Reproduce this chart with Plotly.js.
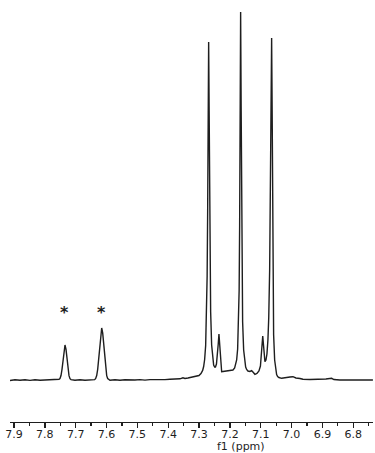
<!DOCTYPE html>
<html>
<head>
<meta charset="utf-8">
<script src="https://cdn.plot.ly/plotly-3.0.1.min.js"></script>
<style>html,body{margin:0;padding:0;background:#fff;}#chart{width:375px;height:453px;}
text{font-variant-emoji:text;}</style>
</head>
<body>
<div id="chart"></div>
<script>
// 1H NMR spectrum, chemical shift (ppm) and intensity (arbitrary units)
var shiftPpm = [
  7.9130, 7.8968, 7.8806, 7.8643, 7.8481, 7.8319, 7.8157, 7.7995, 7.7833, 7.7671, 7.7574,
  7.7541, 7.7509, 7.7476, 7.7444, 7.7412, 7.7379, 7.7347, 7.7314, 7.7282, 7.7250, 7.7217, 7.7185, 7.7152,
  7.7023, 7.6861, 7.6699, 7.6536,
  7.6384, 7.6352, 7.6319, 7.6287, 7.6254, 7.6222, 7.6189, 7.6157, 7.6125, 7.6092, 7.6060, 7.6027, 7.5995, 7.5963, 7.5930,
  7.5888, 7.5726, 7.5564, 7.5402, 7.5240, 7.5078, 7.4916, 7.4754, 7.4592, 7.4430, 7.4267, 7.4105, 7.3943, 7.3781, 7.3619,
  7.3522, 7.3457, 7.3360, 7.3295, 7.3198, 7.3100, 7.3003, 7.2938,
  7.2883, 7.2851, 7.2819, 7.2786, 7.2754, 7.2738, 7.2721, 7.2705, 7.2689, 7.2673, 7.2656, 7.2640, 7.2624,
  7.2592, 7.2559, 7.2527, 7.2494, 7.2468, 7.2436, 7.2404, 7.2378, 7.2355, 7.2332, 7.2313, 7.2290, 7.2267,
  7.2225, 7.2128, 7.2031, 7.1966, 7.1901,
  7.1846, 7.1814, 7.1781, 7.1749, 7.1716, 7.1700, 7.1684, 7.1668, 7.1652, 7.1635, 7.1619, 7.1603, 7.1587,
  7.1554, 7.1522, 7.1489, 7.1457, 7.1415, 7.1350, 7.1295, 7.1253, 7.1188, 7.1123,
  7.1058, 7.1010, 7.0977, 7.0951, 7.0935, 7.0919, 7.0896, 7.0864,
  7.0831, 7.0799, 7.0767, 7.0741, 7.0711, 7.0679, 7.0663, 7.0647, 7.0630, 7.0614, 7.0598, 7.0582,
  7.0549, 7.0517, 7.0485, 7.0452, 7.0410, 7.0322, 7.0215, 7.0118, 7.0053, 6.9956, 6.9859,
  6.9729, 6.9632, 6.9405, 6.9081, 6.8887, 6.8702, 6.8627, 6.8433, 6.8109, 6.7784, 6.7363
];
var intensity = [
  -0.5, 0.2, -0.3, 0.3, -0.4, 0.2, -0.3, -0.1, 0.3, 0.2, 0.6,
  0.8, 1.5, 4.5, 10.7, 20.7, 30.7, 35, 30.7, 20.7, 10.7, 4.3, 1.3, 0.4,
  -0.2, 0.3, -0.2, 0.3,
  0.4, 1.5, 4.4, 10.7, 21.4, 35, 47.1, 52, 47.1, 35, 21.4, 10.7, 4.4, 1.5, 0.5,
  -0.2, 0.3, -0.3, 0.3, -0.2, 0, 0.4, -0.1, 0.4, 0.3, 0.5, 0.4, 0.8, 0.9, 1.2,
  2.2, 1.5, 2.0, 2.5, 3.0, 3.5, 4.5, 6.5,
  9.6, 13.5, 20.5, 34.5, 68, 104, 169, 270, 338, 270, 169, 104, 68,
  35, 21, 15, 13, 13, 16, 24, 36, 46, 36, 20, 10, 8.3,
  8.5, 9, 9, 9.5, 10,
  12, 15, 20, 31, 58, 90, 155, 273, 368, 273, 155, 90, 58,
  30, 18, 13, 10.5, 9, 8.5, 9.3, 8, 5.7, 6.5,
  9, 14, 24, 36, 44, 38, 24, 18.3,
  20, 26, 40, 62, 110, 210, 290, 342, 270, 150, 80, 45,
  20, 10, 5.5, 3.5, 2.5, 1.7, 2.5, 3, 3, 3.3, 2,
  1.5, 0.7, 0.5, 0.5, 1, 1.7, 0.5, 0, 0.1, -0.1, 0
];
// starred signals (ppm, label height)
var starPpm = [7.7347, 7.6157];
var starLevel = [68, 68];
var tickVals = [7.9, 7.8, 7.7, 7.6, 7.5, 7.4, 7.3, 7.2, 7.1, 7.0, 6.9, 6.8];
var xTitle = 'f1 (ppm)';

var ink = '#1e1e1e';
var fam = 'DejaVu Sans, Verdana, sans-serif';
var annotations = starPpm.map(function (p, i) {
  return {x: p, y: starLevel[i], xref: 'x', yref: 'y', text: '<b>*\uFE0E</b>', showarrow: false,
    font: {family: 'DejaVu Sans', size: 16, color: ink},
    xanchor: 'center', yanchor: 'middle'};
});
annotations.push({x: 7.164, y: -0.057, xref: 'x', yref: 'paper', text: xTitle, showarrow: false,
  font: {family: fam, size: 11, color: ink},
  xanchor: 'center', yanchor: 'middle'});

Plotly.newPlot('chart', [{
  x: shiftPpm, y: intensity, type: 'scatter', mode: 'lines',
  line: {color: ink, width: 1.4}, hoverinfo: 'skip'
}], {
  width: 375, height: 453,
  margin: {l: 10, r: 2, t: 0, b: 31, pad: 0},
  paper_bgcolor: '#ffffff', plot_bgcolor: '#ffffff',
  showlegend: false,
  xaxis: {
    range: [7.913, 6.736], tickmode: 'array', tickvals: tickVals, tickformat: '.1f',
    ticks: 'outside', ticklen: 5, tickwidth: 1.3, tickcolor: ink, ticklabelstandoff: -4,
    showline: true, linecolor: ink, linewidth: 1.3, showgrid: false, zeroline: false,
    tickfont: {family: fam, size: 11, color: ink},
    minor: {dtick: 0.05, tick0: 7.0, ticks: 'outside', ticklen: 3, tickwidth: 1.3, tickcolor: ink, showgrid: false}
  },
  yaxis: {range: [-42, 380], visible: false, showgrid: false, zeroline: false},
  annotations: annotations
}, {staticPlot: true, displayModeBar: false});
</script>
</body>
</html>
